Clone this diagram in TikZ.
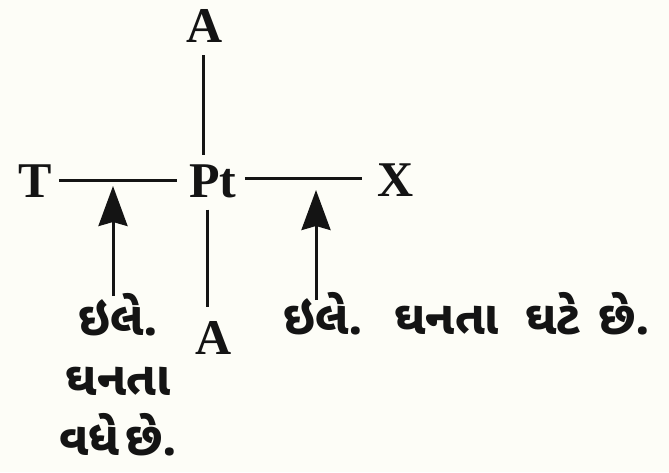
\documentclass[tikz,border=0pt]{standalone}
\usepackage{fontspec}
\setmainfont{Liberation Serif}
\newfontfamily\guj[Script=Gujarati]{Noto Sans Gujarati UI}
\usetikzlibrary{arrows.meta}
\definecolor{paper}{RGB}{253,253,247}
\definecolor{ink}{RGB}{20,20,20}
\tikzset{
  lat/.style={font=\bfseries\fontsize{50}{50}\selectfont, text=ink, inner sep=0pt, anchor=base},
  gtxt/.style={font=\guj\bfseries\fontsize{47}{60}\selectfont, text=ink, inner sep=0pt},
  ln/.style={draw=ink, line width=3pt},
  arr/.style={draw=ink, line width=3pt, -{Stealth[length=40pt,width=29pt,inset=4pt]}}
}
\begin{document}
\begin{tikzpicture}[x=1pt,y=-1pt]
\fill[paper] (0,0) rectangle (669,472);
\useasboundingbox (0,0) rectangle (669,472);
% labels
\node[lat] (A1) at (205,42) {A};
\node[lat] (T) at (35,197) {T};
\node[lat] (Pt) at (213,197) {Pt};
\node[lat] (X) at (396,196) {X};
\node[lat] (A2) at (214,354) {A};
% bonds
\draw[ln, shorten <=13pt, shorten >=9pt] ([xshift=-2pt]A1.south) -- ([xshift=-2pt]A1.south |- Pt.north);
\draw[ln, shorten <=12pt, shorten >=14pt] ([xshift=-7pt]A2.north |- Pt.south) -- ([xshift=-7pt]A2.north);
\draw[ln, shorten <=7pt, shorten >=12pt] (T.east) -- (T.east -| Pt.west);
\draw[ln, shorten <=8pt, shorten >=16pt] ([yshift=2pt]Pt.east) -- ([yshift=2pt]Pt.east -| X.west);
% texts (base anchor of a multi-line node = baseline of its last line)
\node[gtxt, align=center, anchor=base] (L) at (118,455) {ઇલે.\\ઘનતા\\વધે\hspace{6pt}છે.};
\node[gtxt, anchor=base west] (R) at (283,334) {ઇલે.\hspace{32pt}ઘનતા\hspace{26pt}ઘટે\hspace{18pt}છે.};
% arrows
\coordinate (la0) at (113,296);
\coordinate (la1) at (113,186);
\coordinate (ra0) at (316,300);
\coordinate (ra1) at (316,190);
\draw[arr] (la0) -- (la1);
\draw[arr] (ra0) -- (ra1);
\end{tikzpicture}
\end{document}
